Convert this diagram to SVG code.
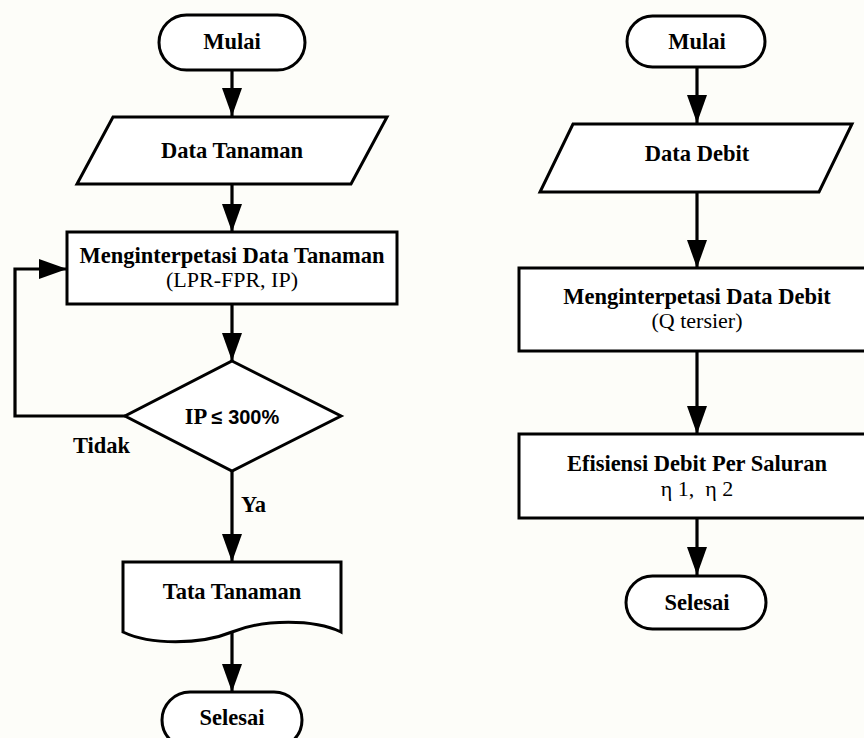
<svg xmlns="http://www.w3.org/2000/svg" width="864" height="738" viewBox="0 0 864 738">
  <defs>
    <marker id="arrow" markerUnits="userSpaceOnUse" markerWidth="28" markerHeight="20" refX="28" refY="10" orient="auto">
      <path d="M0,0 L28,10 L0,20 Z" fill="#000"/>
    </marker>
    <style>
      .shape { fill: #fff; stroke: #000; stroke-width: 3; stroke-linejoin: miter; }
      .term { fill: #fff; stroke: #000; stroke-width: 3; }
      .link { fill: none; stroke: #000; stroke-width: 3.2; marker-end: url(#arrow); }
      .b { font-family: "Liberation Serif", "Times New Roman", serif; font-weight: bold; font-size: 22.5px; fill: #000; text-anchor: middle; }
      .r { font-family: "Liberation Serif", "Times New Roman", serif; font-size: 22px; fill: #000; text-anchor: middle; }
      .lbl { font-family: "Liberation Serif", "Times New Roman", serif; font-weight: bold; font-size: 22.5px; fill: #000; }
    </style>
  </defs>

  <rect x="0" y="0" width="864" height="738" fill="#fdfdf9"/>

  <!-- connectors -->
  <g id="connectors">
    <!-- left flow -->
    <line class="link" x1="232" y1="70" x2="232" y2="116"/>
    <line class="link" x1="232" y1="184" x2="232" y2="232"/>
    <line class="link" x1="232" y1="304" x2="232" y2="361"/>
    <polyline class="link" points="125,416 15,416 15,269 67,269"/>
    <line class="link" x1="232" y1="471" x2="232" y2="562"/>
    <line class="link" x1="232" y1="632" x2="232" y2="692"/>
    <!-- right flow -->
    <line class="link" x1="697" y1="67" x2="697" y2="123"/>
    <line class="link" x1="697" y1="192" x2="697" y2="268"/>
    <line class="link" x1="697" y1="351" x2="697" y2="434"/>
    <line class="link" x1="697" y1="518" x2="697" y2="575"/>
  </g>

  <!-- left flow nodes -->
  <g id="mulai-1">
    <rect class="term" x="159" y="15" width="146" height="55" rx="27.5" ry="27.5"/>
    <text class="b" x="232" y="49">Mulai</text>
  </g>

  <g id="data-tanaman">
    <polygon class="shape" points="113,117 387,117 351,184 77,184"/>
    <text class="b" x="232" y="158">Data Tanaman</text>
  </g>

  <g id="interpretasi-tanaman">
    <rect class="shape" x="67" y="232" width="330" height="72"/>
    <text class="b" x="232" y="263">Menginterpetasi Data Tanaman</text>
    <text class="r" x="232" y="287">(LPR-FPR, IP)</text>
  </g>

  <g id="cek-ip">
    <polygon class="shape" points="232,361 341,416 232,471 125,416"/>
    <text class="b" x="232" y="424">IP <tspan font-family="'Liberation Sans', Arial, sans-serif" font-size="20">≤ 300%</tspan></text>
  </g>

  <text class="lbl" x="73" y="453">Tidak</text>
  <text class="lbl" x="241" y="512">Ya</text>

  <g id="tata-tanaman">
    <path class="shape" d="M123,562 L341,562 L341,632 C314,619 264,619 232,632 C200,645 150,645 123,632 Z"/>
    <text class="b" x="232" y="599">Tata Tanaman</text>
  </g>

  <g id="selesai-1">
    <rect class="term" x="162" y="692" width="140" height="56" rx="28" ry="28"/>
    <text class="b" x="232" y="725">Selesai</text>
  </g>

  <!-- right flow nodes -->
  <g id="mulai-2">
    <rect class="term" x="627" y="16" width="138" height="51" rx="25.5" ry="25.5"/>
    <text class="b" x="697" y="49">Mulai</text>
  </g>

  <g id="data-debit">
    <polygon class="shape" points="573,124 852,124 819,192 540,192"/>
    <text class="b" x="697" y="161">Data Debit</text>
  </g>

  <g id="interpretasi-debit">
    <rect class="shape" x="519" y="268" width="360" height="83"/>
    <text class="b" x="697" y="304">Menginterpetasi Data Debit</text>
    <text class="r" x="697" y="328">(Q tersier)</text>
  </g>

  <g id="efisiensi-debit">
    <rect class="shape" x="519" y="434" width="360" height="84"/>
    <text class="b" x="697" y="471">Efisiensi Debit Per Saluran</text>
    <text class="r" x="697" y="496" font-size="20">η 1,&#160; η 2</text>
  </g>

  <g id="selesai-2">
    <rect class="term" x="626" y="576" width="140" height="53" rx="26.5" ry="26.5"/>
    <text class="b" x="697" y="610">Selesai</text>
  </g>
</svg>
